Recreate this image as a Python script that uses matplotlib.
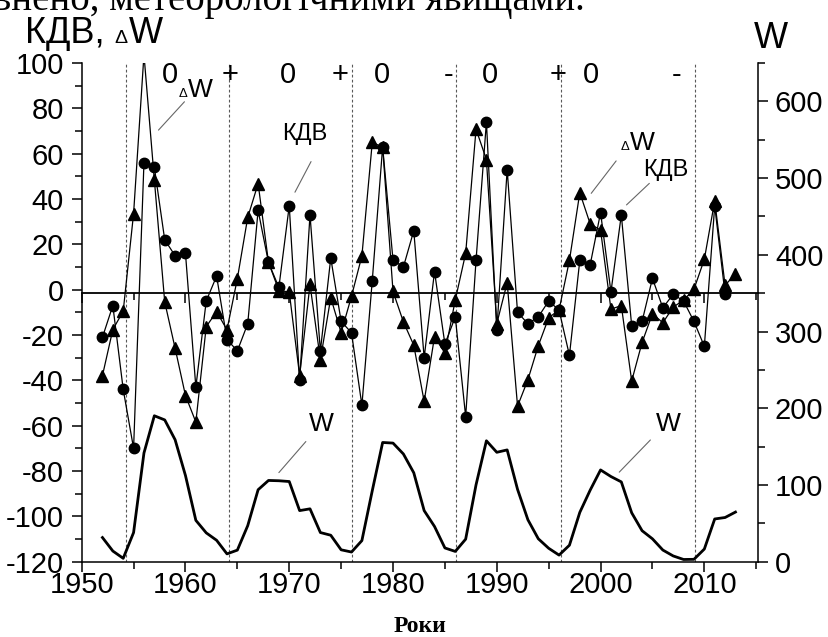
import matplotlib
matplotlib.use('Agg')
import matplotlib.pyplot as plt
from matplotlib.ticker import MultipleLocator, NullFormatter

plt.rcParams['font.family'] = ['Liberation Sans', 'DejaVu Sans']
plt.rcParams['axes.unicode_minus'] = False

# years of observation
years = list(range(1952, 2014))
kdv_years = list(range(1952, 2013))

# КДВ index (circles)
kdv = [-21, -7, -44, -70, 56, 54, 22, 15, 16, -43,
       -5, 6, -22, -27, -15, 35, 12, 1, 37, -40,
       33, -27, 14, -14, -19, -51, 4, 63, 13, 10,
       26, -30, 8, -24, -12, -56, 13, 74, -18, 53,
       -10, -15, -12, -5, -9, -29, 13, 11, 34, -1,
       33, -16, -14, 5, -8, -2, -5, -14, -25, 37,
       -2]

# ΔW, year to year change of sunspot number (triangles)
dw = [-37.9, -17.6, -9.5, 33.6, 103.7, 48.5, -5.4, -25.8, -46.7, -58.4,
      -16.3, -9.7, -17.7, 4.9, 31.9, 46.8, 12.1, -0.4, -1.0, -37.9,
      2.3, -30.9, -3.5, -19.0, -2.9, 14.9, 65.0, 62.9, -0.8, -14.2,
      -24.5, -49.3, -20.7, -28.0, -4.5, 16.0, 70.8, 57.4, -15.0, 3.1,
      -51.4, -39.7, -24.7, -12.4, -8.9, 12.9, 42.8, 29.0, 26.3, -8.6,
      -7.0, -40.3, -23.3, -10.6, -14.6, -7.7, -4.6, 0.2, 13.4, 39.2,
      1.9, 7.1]

# W, yearly sunspot number (right axis)
w = [31.5, 13.9, 4.4, 38.0, 141.7, 190.2, 184.8, 159.0, 112.3, 53.9,
     37.6, 27.9, 10.2, 15.1, 47.0, 93.8, 105.9, 105.5, 104.5, 66.6,
     68.9, 38.0, 34.5, 15.5, 12.6, 27.5, 92.5, 155.4, 154.6, 140.4,
     115.9, 66.6, 45.9, 17.9, 13.4, 29.4, 100.2, 157.6, 142.6, 145.7,
     94.3, 54.6, 29.9, 17.5, 8.6, 21.5, 64.3, 93.3, 119.6, 111.0,
     104.0, 63.7, 40.4, 29.8, 15.2, 7.5, 2.9, 3.1, 16.5, 55.7,
     57.6, 64.7]

# cycle minima (dotted lines) and the phase signs at the top
cycle_minima = [1954.3, 1964.2, 1976.0, 1986.1, 1996.2, 2009.1]
phase_signs = ['0', '+', '0', '+', '0', '-', '0', '+', '0', '-']
phase_years = [1958.5, 1964.3, 1969.9, 1974.9, 1978.9, 1985.4, 1989.35, 1995.9, 1999.1, 2007.3]

W_PX, H_PX = 829, 637


def fx(px):
    return px / W_PX


def fy(py):
    return 1 - py / H_PX


fig = plt.figure(figsize=(W_PX / 100, H_PX / 100), dpi=100)
ax = fig.add_axes([fx(81.7), fy(561.7), fx(758.3) - fx(81.7), fy(63) - fy(561.7)])
ax2 = ax.twinx()

ax.set_xlim(1950, 2015.2)
ax.set_ylim(-120, 100)
ax2.set_ylim(0, 650)

# dotted lines at cycle minima
for x in cycle_minima:
    ax.axvline(x, color='0.35', lw=0.8, ls=(0, (2.5, 2)), zorder=1)

# series
ax.plot(years, dw, '-^', color='black', lw=0.9, ms=8, zorder=3)
ax.plot(kdv_years, kdv, '-o', color='black', lw=0.9, ms=7.5, zorder=3)
ax2.plot(years, w, color='black', lw=2.0)

# inner x axis along the W = 350 line, ticks hanging down
sec = ax.secondary_xaxis(350 / 650)
sec.xaxis.set_major_locator(MultipleLocator(10))
sec.xaxis.set_minor_locator(MultipleLocator(5))
sec.xaxis.set_major_formatter(NullFormatter())
sec.tick_params(which='both', direction='in', width=1.1, labeltop=False, labelbottom=False)
sec.tick_params(which='major', length=7)
sec.tick_params(which='minor', length=5)
for sp in sec.spines.values():
    sp.set_linewidth(1.3)

# axes styling
for a in (ax, ax2):
    a.spines['top'].set_visible(False)
    for sp in a.spines.values():
        sp.set_linewidth(1.1)
ax.spines['right'].set_visible(False)
ax2.spines['left'].set_visible(False)
ax2.spines['bottom'].set_visible(False)

ax.xaxis.set_major_locator(MultipleLocator(10))
ax.xaxis.set_minor_locator(MultipleLocator(5))
ax.yaxis.set_major_locator(MultipleLocator(20))
ax.yaxis.set_minor_locator(MultipleLocator(10))
ax2.yaxis.set_major_locator(MultipleLocator(100))
ax2.yaxis.set_minor_locator(MultipleLocator(50))

ax.tick_params(which='both', direction='out', width=1.1, labelsize=21)
ax.tick_params(which='major', length=7)
ax.tick_params(which='minor', length=5)
ax.tick_params(axis='y', pad=6)
ax.tick_params(axis='x', pad=0)
ax2.tick_params(which='both', direction='out', width=1.1, labelsize=21, pad=5)
ax2.tick_params(which='major', length=7)
ax2.tick_params(which='minor', length=5)

# phase signs
for s, x in zip(phase_signs, phase_years):
    ax.text(x, 91, s, ha='center', va='baseline', fontsize=21)


def delta_w(x, y, size, **kw):
    # small delta followed by a W, sitting on one baseline
    small = size * 0.5
    t = ax.text(x, y, 'Δ', fontsize=small, ha='left', va='baseline', **kw)
    ax.annotate('W', xy=(1, 0), xycoords=t, xytext=(0.5, 0.212 * small),
                textcoords='offset points', fontsize=size, ha='left', va='baseline')


leader = dict(arrowstyle='-', color='0.4', lw=0.8, shrinkA=0, shrinkB=0)

delta_w(1959.3, 85.1, 19)
ax.annotate('', xy=(1957.4, 70.4), xytext=(1959.9, 82.9), arrowprops=leader)
ax.text(1971.5, 68.7, 'КДВ', ha='center', va='center', fontsize=17)
ax.annotate('', xy=(1970.55, 43), xytext=(1972.1, 56.5), arrowprops=leader)

delta_w(2001.9, 61.6, 19)
ax.annotate('', xy=(1999.1, 42.5), xytext=(2001.5, 56.8), arrowprops=leader)
ax.text(2006.3, 52.8, 'КДВ', ha='center', va='center', fontsize=17)
ax.annotate('', xy=(2002.5, 37.4), xytext=(2004.7, 46.9), arrowprops=leader)

ax.text(1973.1, -59.2, 'W', ha='center', va='center', fontsize=19)
ax.annotate('', xy=(1969.0, -80.7), xytext=(1971.6, -67), arrowprops=leader)
ax.text(2006.5, -59.2, 'W', ha='center', va='center', fontsize=19)
ax.annotate('', xy=(2001.8, -80.5), xytext=(2004.8, -66.3), arrowprops=leader)

# axis titles
t1 = fig.text(fx(25), fy(42.7), 'КДВ, ', fontsize=26, ha='left', va='baseline')
d = plt.annotate('Δ', xy=(1, 0), xycoords=t1, xytext=(0, 0.212 * 26 - 0.212 * 14),
                 textcoords='offset points', fontsize=14, ha='left', va='bottom',
                 annotation_clip=False)
plt.annotate('W', xy=(1, 0), xycoords=(d, t1), xytext=(1, 0),
             textcoords='offset points', fontsize=26, ha='left', va='bottom',
             annotation_clip=False)
fig.text(fx(770.7), fy(38), 'W', fontsize=26, ha='center', va='center')
fig.text(fx(420), fy(626), 'Роки', fontsize=17, ha='center', va='center',
         family=['Liberation Serif', 'DejaVu Serif'], weight='bold')

# line of the surrounding page text, cut by the crop
fig.text(fx(585), fy(10), 'ивнено, метеорологічними явищами.', fontsize=28,
         ha='right', va='baseline', family=['Liberation Serif', 'DejaVu Serif'])

fig.savefig('out.png', dpi=100)
